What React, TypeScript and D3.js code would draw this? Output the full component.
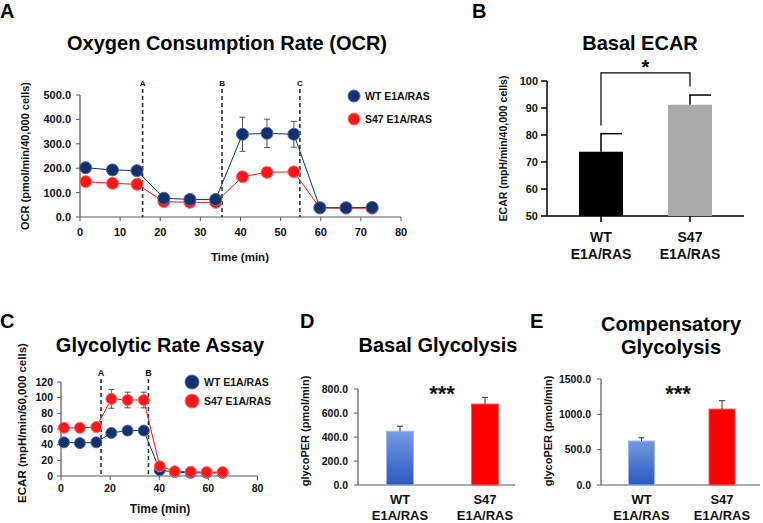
import React from 'react';
import * as d3 from 'd3';

// ---------- Data ----------
const groups = ['WT E1A/RAS', 'S47 E1A/RAS'];
const groupTop = ['WT', 'S47'];
const groupBottom = ['E1A/RAS', 'E1A/RAS'];

// Panel A: OCR time course
const ocrTime = [1.4, 8.1, 14.2, 20.9, 27.4, 33.8, 40.5, 46.6, 53.3, 59.8, 66.3, 72.8];
const ocrWT = [202, 193, 190, 77, 72, 72, 339, 343, 339, 38, 38, 39];
const ocrWTErr = [22, 20, 18, 8, 6, 6, 70, 58, 53, 4, 4, 4];
const ocrS47 = [145, 138, 134, 63, 60, 60, 165, 183, 185, 37, 36, 36];
const ocrS47Err = [8, 7, 7, 6, 5, 5, 8, 10, 12, 3, 3, 3];
const ocrInjLabels = ['A', 'B', 'C'];
const ocrInjTimes = [15.6, 35.4, 54.8];
const ocrYTicks = [0, 100, 200, 300, 400, 500];
const ocrXTicks = [0, 10, 20, 30, 40, 50, 60, 70, 80];

// Panel B: Basal ECAR
const ecarMean = [73.8, 91.2];
const ecarErr = [6.7, 3.6];
const ecarYTicks = [50, 60, 70, 80, 90, 100];

// Panel C: Glycolytic rate assay
const graTime = [1.2, 7.7, 14.4, 20.5, 27.1, 33.7, 40.2, 46.3, 52.8, 59.3, 65.8];
const graWT = [43, 42, 43, 55, 58, 58, 7.5, 5, 4, 4, 4];
const graWTErr = [3, 3, 3, 4, 4, 4, 2, 1, 1, 1, 1];
const graS47 = [61.5, 61.5, 62.5, 98.5, 97, 97, 12.5, 6, 5.5, 5, 5];
const graS47Err = [6, 6, 6, 12, 10, 10, 3, 2, 1, 1, 1];
const graInjLabels = ['A', 'B'];
const graInjTimes = [16.3, 35.6];
const graYTicks = [0, 20, 40, 60, 80, 100, 120];
const graXTicks = [0, 20, 40, 60, 80];

// Panel D: Basal glycolysis
const basalGly = [448, 675];
const basalGlyErr = [42, 55];
const basalYTicks = [0, 200, 400, 600, 800];

// Panel E: Compensatory glycolysis
const compGly = [623, 1075];
const compGlyErr = [45, 118];
const compYTicks = [0, 500, 1000, 1500];

// ---------- Styles ----------
const F = "'Liberation Sans', Arial, Helvetica, sans-serif";
const BLUE = '#13306e';
const BLUE_EDGE = '#4d6aa6';
const RED = '#ff1616';
const RED_EDGE = '#ff7070';
const AXIS = '#5a5a5a';

type SeriesProps = {
  x: d3.ScaleLinear<number, number>;
  y: d3.ScaleLinear<number, number>;
  ts: number[];
  vals: number[];
  errs: number[];
  fill: string;
  edge: string;
  r: number;
};

function Series({ x, y, ts, vals, errs, fill, edge, r }: SeriesProps) {
  const line = d3
    .line<number>()
    .x((_, i) => x(ts[i]))
    .y((d) => y(d));
  return (
    <g>
      <path d={line(vals) || ''} fill="none" stroke={fill} strokeWidth={1} />
      {vals.map((v, i) => {
        const cx = x(ts[i]);
        const top = y(v + errs[i]);
        const bot = y(v - errs[i]);
        return (
          <g key={'e' + i} stroke="#555" strokeWidth={1}>
            <line x1={cx} x2={cx} y1={top} y2={bot} />
            <line x1={cx - 3} x2={cx + 3} y1={top} y2={top} />
            <line x1={cx - 3} x2={cx + 3} y1={bot} y2={bot} />
          </g>
        );
      })}
      {vals.map((v, i) => (
        <circle key={'c' + i} cx={x(ts[i])} cy={y(v)} r={r} fill={fill} stroke={edge} strokeWidth={1} />
      ))}
    </g>
  );
}

function LineAxes({
  x,
  y,
  xTicks,
  yTicks,
  yFmt,
  fs,
  yLabelGap,
  xLabelDy,
}: {
  x: d3.ScaleLinear<number, number>;
  y: d3.ScaleLinear<number, number>;
  xTicks: number[];
  yTicks: number[];
  yFmt: (n: number) => string;
  fs: number;
  yLabelGap: number;
  xLabelDy: number;
}) {
  const [x0, x1] = x.range();
  const [y0, y1] = y.range();
  return (
    <g fontFamily={F} fontWeight="bold" fontSize={fs} fill="#111">
      <line x1={x0} x2={x1} y1={y0} y2={y0} stroke={AXIS} strokeWidth={1.2} />
      <line x1={x0} x2={x0} y1={y0} y2={y1} stroke={AXIS} strokeWidth={1.2} />
      {yTicks.map((t) => (
        <g key={'y' + t}>
          <line x1={x0 - 4} x2={x0} y1={y(t)} y2={y(t)} stroke={AXIS} strokeWidth={1} />
          <text x={x0 - yLabelGap} y={y(t) + fs * 0.36} textAnchor="end">
            {yFmt(t)}
          </text>
        </g>
      ))}
      {xTicks.map((t) => (
        <g key={'x' + t}>
          <line x1={x(t)} x2={x(t)} y1={y0} y2={y0 + 4} stroke={AXIS} strokeWidth={1} />
          <text x={x(t)} y={y0 + xLabelDy} textAnchor="middle">
            {t}
          </text>
        </g>
      ))}
    </g>
  );
}

function Injections({
  x,
  y,
  labels,
  times,
  top,
  fs,
}: {
  x: d3.ScaleLinear<number, number>;
  y: d3.ScaleLinear<number, number>;
  labels: string[];
  times: number[];
  top: number;
  fs: number;
}) {
  const y0 = y.range()[0];
  return (
    <g>
      {times.map((t, i) => (
        <g key={i}>
          <line x1={x(t)} x2={x(t)} y1={top} y2={y0} stroke="#333" strokeWidth={1.6} strokeDasharray="4,3" />
          <text x={x(t)} y={top - 3} textAnchor="middle" fontFamily={F} fontWeight="bold" fontSize={fs} fill="#111">
            {labels[i]}
          </text>
        </g>
      ))}
    </g>
  );
}

function Legend({ x, y, gap, r, fs }: { x: number; y: number; gap: number; r: number; fs: number }) {
  const fills = [BLUE, RED];
  const edges = [BLUE_EDGE, RED_EDGE];
  return (
    <g fontFamily={F} fontWeight="bold" fontSize={fs} fill="#111">
      {groups.map((g, i) => (
        <g key={g}>
          <circle cx={x} cy={y + i * gap} r={r} fill={fills[i]} stroke={edges[i]} strokeWidth={1} />
          <text x={x + r + 5} y={y + i * gap + fs * 0.36}>
            {g}
          </text>
        </g>
      ))}
    </g>
  );
}

function BarLabels({ xs, y, fs, lh }: { xs: number[]; y: number; fs: number; lh: number }) {
  return (
    <g fontFamily={F} fontWeight="bold" fontSize={fs} fill="#111" textAnchor="middle">
      {xs.map((cx, i) => (
        <g key={i}>
          <text x={cx} y={y}>
            {groupTop[i]}
          </text>
          <text x={cx} y={y + lh}>
            {groupBottom[i]}
          </text>
        </g>
      ))}
    </g>
  );
}

function GlyBars({
  xr,
  y,
  vals,
  errs,
  bw,
  gid,
}: {
  xr: [number, number];
  y: d3.ScaleLinear<number, number>;
  vals: number[];
  errs: number[];
  bw: number;
  gid: string;
}) {
  const xb = d3.scalePoint<string>().domain(groups).range(xr);
  const y0 = y.range()[0];
  return (
    <g>
      {vals.map((v, i) => {
        const cx = xb(groups[i]) as number;
        const top = y(v);
        const et = y(v + errs[i]);
        return (
          <g key={i}>
            <rect
              x={cx - bw / 2}
              y={top}
              width={bw}
              height={y0 - top}
              fill={i === 0 ? `url(#${gid})` : '#ff0000'}
              stroke={i === 0 ? '#9db8ee' : '#ff5a5a'}
              strokeWidth={1}
            />
            <line x1={cx} x2={cx} y1={top} y2={et} stroke="#333" strokeWidth={1} />
            <line x1={cx - 3} x2={cx + 3} y1={et} y2={et} stroke="#333" strokeWidth={1} />
          </g>
        );
      })}
    </g>
  );
}

function YAxisSimple({
  x0,
  x1,
  y,
  ticks,
  fmt,
  fs,
  gap,
}: {
  x0: number;
  x1: number;
  y: d3.ScaleLinear<number, number>;
  ticks: number[];
  fmt: (n: number) => string;
  fs: number;
  gap: number;
}) {
  const [b, t] = y.range();
  return (
    <g fontFamily={F} fontWeight="bold" fontSize={fs} fill="#111">
      <line x1={x0} x2={x0} y1={b} y2={t} stroke={AXIS} strokeWidth={1.2} />
      <line x1={x0} x2={x1} y1={b} y2={b} stroke={AXIS} strokeWidth={1.2} />
      {ticks.map((v) => (
        <g key={v}>
          <line x1={x0 - 4} x2={x0} y1={y(v)} y2={y(v)} stroke={AXIS} strokeWidth={1} />
          <text x={x0 - gap} y={y(v) + fs * 0.36} textAnchor="end">
            {fmt(v)}
          </text>
        </g>
      ))}
    </g>
  );
}

export default function App() {
  const f1 = d3.format('.1f');

  // Panel A scales
  const xA = d3.scaleLinear().domain([0, 80]).range([80, 401]);
  const yA = d3.scaleLinear().domain([0, 500]).range([217, 95]);

  // Panel B scales
  const xB = d3.scalePoint<string>().domain(groups).range([601, 690]);
  const yB = d3.scaleLinear().domain([50, 100]).range([216, 81]);

  // Panel C scales
  const xC = d3.scaleLinear().domain([0, 80]).range([61, 257.5]);
  const yC = d3.scaleLinear().domain([0, 120]).range([476, 382]);

  // Panel D/E scales
  const yD = d3.scaleLinear().domain([0, 800]).range([485, 389]);
  const yE = d3.scaleLinear().domain([0, 1500]).range([485, 379]);

  const letter = { fontFamily: F, fontWeight: 'bold' as const, fontSize: 20, fill: '#000' };
  const title = { fontFamily: F, fontWeight: 'bold' as const, fontSize: 20, fill: '#000' };

  const bW = 44;
  const bx = groups.map((g) => xB(g) as number);
  const bracketTop = yB(103);

  return (
    <svg
      width={763}
      height={523}
      viewBox="0 0 763 523"
      style={{ position: 'absolute', left: 0, top: 0, background: '#fff' }}
    >
      <defs>
        <linearGradient id="wtGrad" x1="0" y1="0" x2="0" y2="1">
          <stop offset="0" stopColor="#759ae0" />
          <stop offset="1" stopColor="#2a59c0" />
        </linearGradient>
        <linearGradient id="wtGrad2" x1="0" y1="0" x2="0" y2="1">
          <stop offset="0" stopColor="#759ae0" />
          <stop offset="1" stopColor="#2a59c0" />
        </linearGradient>
      </defs>
      <rect x={0} y={0} width={763} height={523} fill="#fff" />

      {/* ---------- Panel A ---------- */}
      <text x={0} y={18} {...letter}>A</text>
      <text x={67} y={50} {...title}>Oxygen Consumption Rate (OCR)</text>
      <LineAxes x={xA} y={yA} xTicks={ocrXTicks} yTicks={ocrYTicks} yFmt={f1} fs={11} yLabelGap={9} xLabelDy={19} />
      <Injections x={xA} y={yA} labels={ocrInjLabels} times={ocrInjTimes} top={89} fs={8} />
      <Series x={xA} y={yA} ts={ocrTime} vals={ocrS47} errs={ocrS47Err} fill={RED} edge={RED_EDGE} r={6} />
      <Series x={xA} y={yA} ts={ocrTime} vals={ocrWT} errs={ocrWTErr} fill={BLUE} edge={BLUE_EDGE} r={6} />
      <text
        transform={`translate(29,${(95 + 217) / 2}) rotate(-90)`}
        textAnchor="middle"
        fontFamily={F}
        fontWeight="bold"
        fontSize={11}
        fill="#111"
      >
        OCR (pmol/min/40,000 cells)
      </text>
      <text x={240} y={261} textAnchor="middle" fontFamily={F} fontWeight="bold" fontSize={11.5} fill="#111">
        Time (min)
      </text>
      <Legend x={354} y={96} gap={23} r={6} fs={10.5} />

      {/* ---------- Panel B ---------- */}
      <text x={472} y={18} {...letter}>B</text>
      <text x={640} y={50} textAnchor="middle" {...title}>Basal ECAR</text>
      <g fontFamily={F} fontWeight="bold" fontSize={11} fill="#111">
        <line x1={547} x2={547} y1={yB(50)} y2={yB(100)} stroke="#000" strokeWidth={1.5} />
        <line x1={547} x2={744} y1={yB(50)} y2={yB(50)} stroke="#000" strokeWidth={1.5} />
        {ecarYTicks.map((t) => (
          <g key={t}>
            <line x1={541} x2={547} y1={yB(t)} y2={yB(t)} stroke="#000" strokeWidth={1.5} />
            <text x={538} y={yB(t) + 4} textAnchor="end">
              {t}
            </text>
          </g>
        ))}
        {bx.map((cx) => (
          <line key={cx} x1={cx} x2={cx} y1={yB(50)} y2={yB(50) + 6} stroke="#000" strokeWidth={1.5} />
        ))}
      </g>
      {ecarMean.map((v, i) => {
        const cx = bx[i];
        const et = yB(v + ecarErr[i]);
        return (
          <g key={i}>
            <line x1={cx} x2={cx} y1={yB(v)} y2={et} stroke="#000" strokeWidth={1.5} />
            <line x1={cx - 0.75} x2={cx + 21} y1={et} y2={et} stroke="#000" strokeWidth={1.5} />
            <rect x={cx - bW / 2} y={yB(v)} width={bW} height={yB(50) - yB(v)} fill={i === 0 ? '#000' : '#aaaaaa'} />
          </g>
        );
      })}
      <path
        d={`M${bx[0]},${yB(83.5)}V${bracketTop}H${bx[1]}V${yB(98)}`}
        fill="none"
        stroke="#000"
        strokeWidth={1.2}
      />
      <text x={(bx[0] + bx[1]) / 2} y={bracketTop + 1} textAnchor="middle" fontFamily={F} fontWeight="bold" fontSize={20}>
        *
      </text>
      <text
        transform={`translate(507,${(81 + 216) / 2}) rotate(-90)`}
        textAnchor="middle"
        fontFamily={F}
        fontWeight="bold"
        fontSize={10.5}
        fill="#111"
      >
        ECAR (mpH/min/40,000 cells)
      </text>
      <BarLabels xs={bx} y={242} fs={14} lh={17} />

      {/* ---------- Panel C ---------- */}
      <text x={0} y={328} {...letter}>C</text>
      <text x={160} y={352} textAnchor="middle" {...title}>Glycolytic Rate Assay</text>
      <LineAxes x={xC} y={yC} xTicks={graXTicks} yTicks={graYTicks} yFmt={(n) => String(n)} fs={10.5} yLabelGap={8} xLabelDy={16} />
      <Injections x={xC} y={yC} labels={graInjLabels} times={graInjTimes} top={379} fs={9} />
      <Series x={xC} y={yC} ts={graTime} vals={graWT} errs={graWTErr} fill={BLUE} edge={BLUE_EDGE} r={5.5} />
      <Series x={xC} y={yC} ts={graTime} vals={graS47} errs={graS47Err} fill={RED} edge={RED_EDGE} r={5.5} />
      <text
        transform={`translate(26,423) rotate(-90)`}
        textAnchor="middle"
        fontFamily={F}
        fontWeight="bold"
        fontSize={11.5}
        fill="#111"
      >
        ECAR (mpH/min/60,000 cells)
      </text>
      <text x={160} y={513} textAnchor="middle" fontFamily={F} fontWeight="bold" fontSize={12} fill="#111">
        Time (min)
      </text>
      <Legend x={192} y={382} gap={19} r={7} fs={10.5} />

      {/* ---------- Panel D ---------- */}
      <text x={300} y={328} {...letter}>D</text>
      <text x={438} y={352} textAnchor="middle" {...title}>Basal Glycolysis</text>
      <YAxisSimple x0={358} x1={515} y={yD} ticks={basalYTicks} fmt={f1} fs={10.5} gap={10} />
      <GlyBars xr={[400, 485]} y={yD} vals={basalGly} errs={basalGlyErr} bw={27} gid="wtGrad" />
      <text x={442} y={401} textAnchor="middle" fontFamily={F} fontWeight="bold" fontSize={22} fill="#111">
        ***
      </text>
      <text
        transform={`translate(309,431) rotate(-90)`}
        textAnchor="middle"
        fontFamily={F}
        fontWeight="bold"
        fontSize={11}
        fill="#111"
      >
        glycoPER (pmol/min)
      </text>
      <BarLabels xs={[400, 485]} y={504} fs={13} lh={15.5} />

      {/* ---------- Panel E ---------- */}
      <text x={530} y={328} {...letter}>E</text>
      <text x={671} y={331} textAnchor="middle" {...title}>Compensatory</text>
      <text x={671} y={354} textAnchor="middle" {...title}>Glycolysis</text>
      <YAxisSimple x0={601} x1={760} y={yE} ticks={compYTicks} fmt={f1} fs={10.5} gap={10} />
      <GlyBars xr={[641.5, 722]} y={yE} vals={compGly} errs={compGlyErr} bw={26} gid="wtGrad2" />
      <text x={678} y={401} textAnchor="middle" fontFamily={F} fontWeight="bold" fontSize={22} fill="#111">
        ***
      </text>
      <text
        transform={`translate(552,431) rotate(-90)`}
        textAnchor="middle"
        fontFamily={F}
        fontWeight="bold"
        fontSize={11}
        fill="#111"
      >
        glycoPER (pmol/min)
      </text>
      <BarLabels xs={[641.5, 722]} y={504} fs={13} lh={15.5} />
    </svg>
  );
}
